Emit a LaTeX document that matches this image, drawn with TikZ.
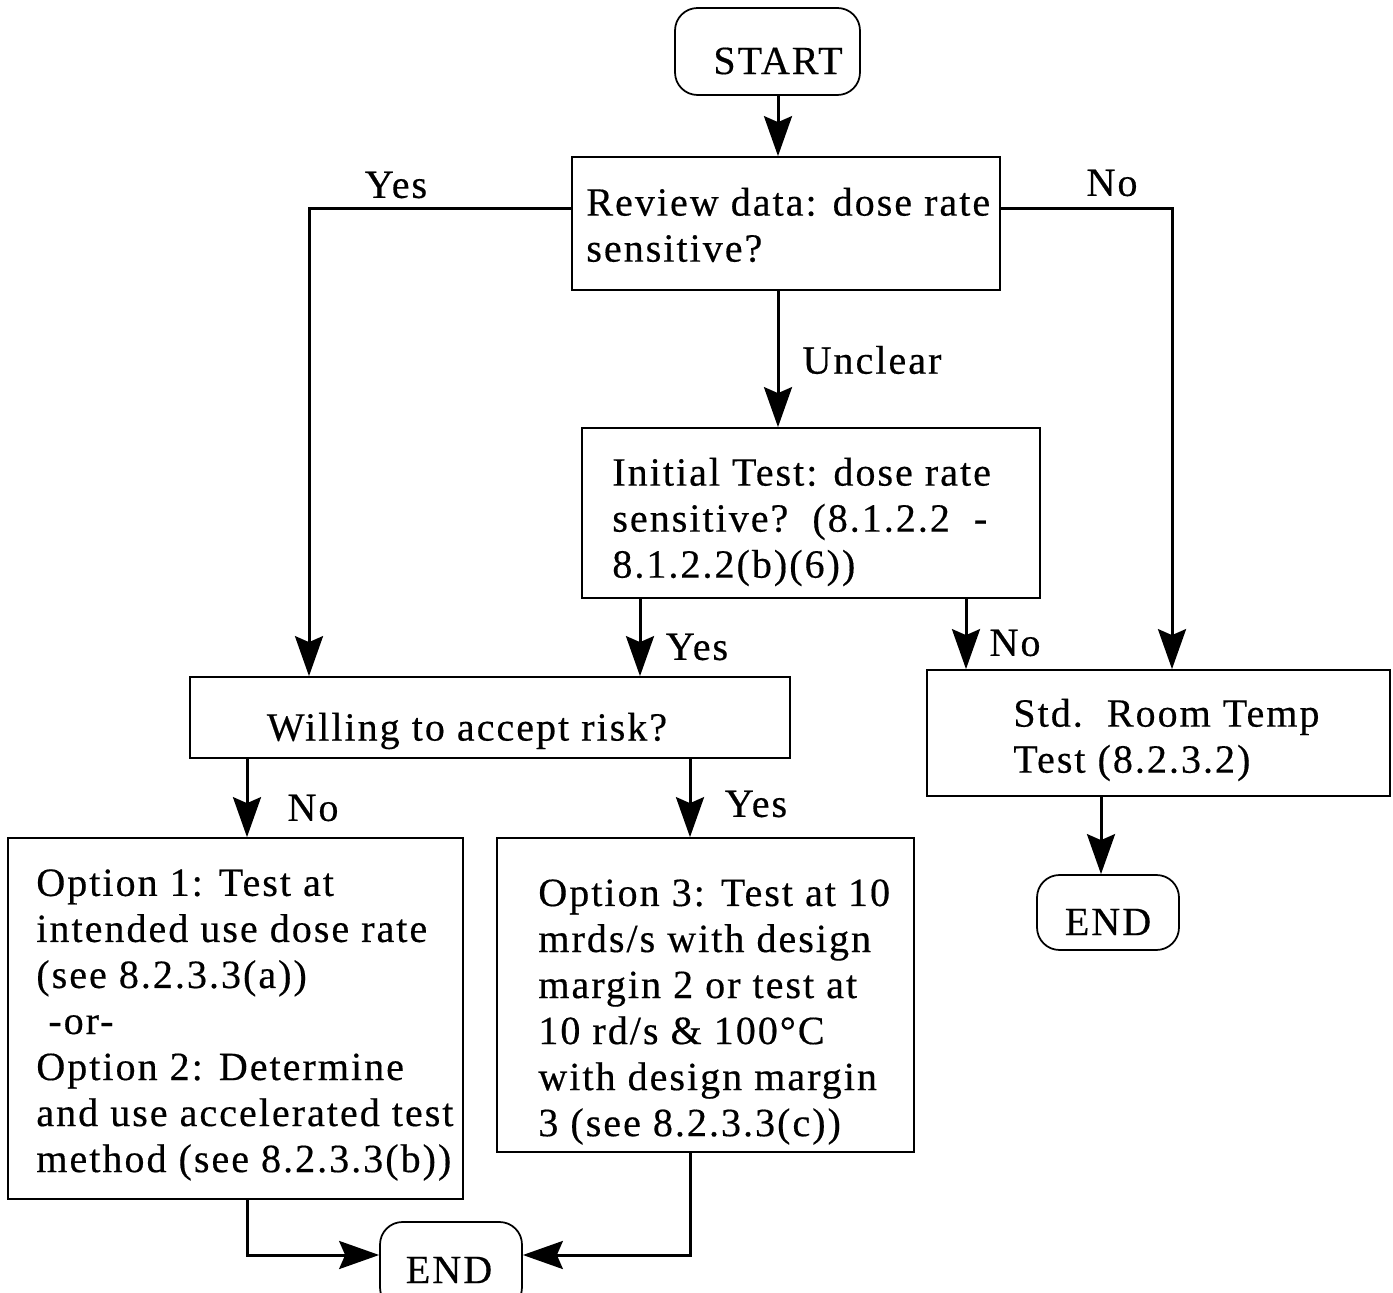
\documentclass[tikz,border=0pt]{standalone}
\usepackage{fontspec}
\setmainfont{Liberation Serif}[LetterSpace=5,FakeBold=0.4]
\usetikzlibrary{arrows.meta,calc}
\begin{document}
\begin{tikzpicture}[x=0.02cm,y=-0.02cm,
  every node/.style={font=\fontsize{22.8}{26.2}\selectfont},
  box/.style={draw,line width=0.035cm,rectangle,inner sep=0pt},
  rbox/.style={draw,line width=0.035cm,rectangle,rounded corners=0.45cm,inner sep=0pt},
  txt/.style={align=left,inner sep=0pt,anchor=west},
  lbl/.style={inner sep=0pt},
  arr/.style={line width=0.06cm,-{Stealth[length=0.8cm,width=0.56cm,inset=0.12cm]}},
  ln/.style={line width=0.06cm}]
\clip (0,0) rectangle (1393,1293);
\useasboundingbox (0,0) rectangle (1393,1293);
% boxes
\node[rbox,minimum width=3.7cm,minimum height=1.74cm] (start) at (767.5,51.5) {};
\node[box,minimum width=8.56cm,minimum height=2.66cm] (review) at (786,223.5) {};
\node[box,minimum width=9.16cm,minimum height=3.4cm] (initial) at (811,513) {};
\node[box,minimum width=12cm,minimum height=1.62cm] (willing) at (490,717.5) {};
\node[box,minimum width=9.26cm,minimum height=2.52cm] (std) at (1158.5,733) {};
\node[box,minimum width=9.1cm,minimum height=7.22cm] (opt1) at (235.5,1018.5) {};
\node[box,minimum width=8.34cm,minimum height=6.28cm] (opt3) at (705.5,995) {};
\node[rbox,minimum width=2.84cm,minimum height=1.76cm] (endA) at (451,1266) {};
\node[rbox,minimum width=2.84cm,minimum height=1.5cm] (endB) at (1108,912.5) {};
% texts
\node[lbl] (tstart) at (778,61) {START};
\node[txt] (treview) at (586,225) {Review data: dose rate\\sensitive?};
\node[txt] (tinitial) at (612,522) {Initial Test: dose rate\\sensitive?\ \ (8.1.2.2\ \ -\\8.1.2.2(b)(6))};
\node[lbl] (twilling) at (467,731) {Willing to accept risk?};
\node[txt] (tstd) at (1013,740) {Std.\ \ Room Temp\\Test (8.2.3.2)};
\node[txt] (topt1) at (36,1025) {Option 1: Test at\\intended use dose rate\\(see 8.2.3.3(a))\\\hspace*{0.24cm}-or-\\Option 2: Determine\\and use accelerated test\\method (see 8.2.3.3(b))};
\node[txt] (topt3) at (538,1012) {Option 3: Test at 10\\mrds/s with design\\margin 2 or test at\\10 rd/s \& 100\textdegree C\\with design margin\\3 (see 8.2.3.3(c))};
\node[lbl] (tendA) at (449,1270) {END};
\node[lbl] (tendB) at (1108,922) {END};
% connector labels
\node[lbl] (lyes1) at (396,185) {Yes};
\node[lbl] (lno1) at (1112,183) {No};
\node[lbl] (lunclear) at (872,360) {Unclear};
\node[lbl] (lyes2) at (697,647) {Yes};
\node[lbl] (lno2) at (1015,643) {No};
\node[lbl] (lno3) at (313,808) {No};
\node[lbl] (lyes3) at (756,804) {Yes};
% helper coordinates
\coordinate (xa) at (778,0);
\coordinate (xl) at (309,0);
\coordinate (xr) at (1172,0);
\coordinate (xy) at (640,0);
\coordinate (xn) at (966,0);
\coordinate (xo1) at (247,0);
\coordinate (xo3) at (690,0);
\coordinate (xe) at (1101,0);
\coordinate (yr) at (0,209);
\coordinate (ye) at (0,1255);
% connectors
\draw[arr] (start.south -| xa) -- (review.north -| xa);
\draw[arr] (review.west |- yr) -| (willing.north -| xl);
\draw[arr] (review.east |- yr) -| (std.north -| xr);
\draw[arr] (review.south -| xa) -- (initial.north -| xa);
\draw[arr] (initial.south -| xy) -- (willing.north -| xy);
\draw[arr] (initial.south -| xn) -- (std.north -| xn);
\draw[arr] (willing.south -| xo1) -- (opt1.north -| xo1);
\draw[arr] (willing.south -| xo3) -- (opt3.north -| xo3);
\draw[arr] (std.south -| xe) -- (endB.north -| xe);
\draw[arr] (opt1.south -| xo1) |- (endA.west |- ye);
\draw[arr] (opt3.south -| xo3) |- (endA.east |- ye);
\end{tikzpicture}
\end{document}
